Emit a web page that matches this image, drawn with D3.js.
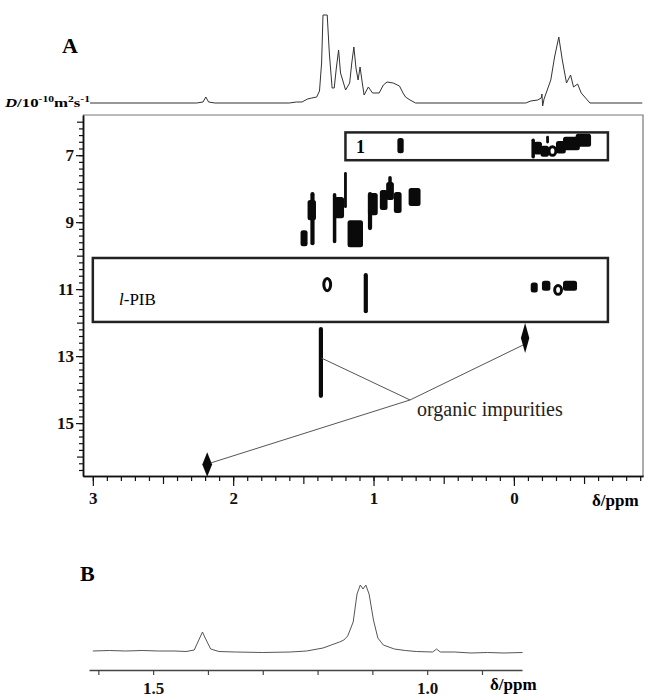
<!DOCTYPE html>
<html>
<head>
<meta charset="utf-8">
<script src="https://cdn.jsdelivr.net/npm/d3@7"></script>
<style>
  body { margin: 0; background: #fff; }
  svg { display: block; }
  text { font-family: "Liberation Serif", "Times New Roman", serif; }
</style>
</head>
<body>
<svg id="chart" width="649" height="700"></svg>
<script>
// 1D projection above panel A: [ppm, intensity]
const topSpectrum = [
  [3.02, 0], [2.26, 0], [2.215, 1], [2.195, 6], [2.175, 1], [2.13, 0],
  [1.60, 0], [1.55, 1], [1.51, 1], [1.47, 4], [1.44, 5], [1.405, 6], [1.385, 12],
  [1.37, 40], [1.36, 88], [1.33, 88], [1.315, 50], [1.295, 15], [1.28, 15],
  [1.265, 35], [1.249, 53], [1.235, 30], [1.22, 23], [1.199, 13], [1.17, 20],
  [1.155, 40], [1.14, 56], [1.125, 35], [1.11, 23], [1.096, 36], [1.08, 20],
  [1.067, 8], [1.037, 16], [1.007, 10], [0.96, 10], [0.93, 18], [0.904, 21],
  [0.86, 20], [0.815, 17], [0.79, 10], [0.772, 6], [0.74, 3], [0.70, 0],
  [-0.085, 0], [-0.12, 2], [-0.17, 3], [-0.195, 5], [-0.2, 9], [-0.205, -3],
  [-0.215, 4], [-0.263, 23], [-0.29, 46], [-0.32, 66], [-0.345, 43], [-0.375, 20],
  [-0.404, 28], [-0.425, 16], [-0.454, 19], [-0.48, 10], [-0.542, 0], [-0.915, 0]
];

// panel B spectrum: [ppm, intensity]
const bSpectrum = [
  [1.61, 1], [1.58, 1.5], [1.55, 1], [1.52, 1.5], [1.49, 1], [1.46, 1], [1.44, 0.5],
  [1.425, 2], [1.415, 14], [1.41, 20], [1.405, 14], [1.395, 3], [1.38, 0.5],
  [1.35, 0], [1.3, -0.5], [1.25, 0], [1.22, 1], [1.19, 4], [1.175, 7], [1.16, 10],
  [1.152, 12], [1.145, 16], [1.135, 30], [1.128, 58], [1.122, 67], [1.117, 63],
  [1.112, 67], [1.106, 58], [1.098, 32], [1.09, 14], [1.08, 7], [1.06, 3],
  [1.04, 1.5], [1.02, 0.5], [0.99, 0], [0.983, 3], [0.976, 0], [0.95, 0],
  [0.92, -1], [0.89, -0.5], [0.86, -1], [0.826, -0.5]
];

const xTicksA = [3, 2, 1, 0];
const yTicksA = [7, 9, 11, 13, 15];
const xTicksB = [1.5, 1.0];

// DOSY contours: [ppm from, ppm to, D from, D to]
const blobs = [
  // compound 1
  [0.83, 0.785, 6.49, 6.94], [-0.125, -0.15, 6.5, 7.1], [-0.14, -0.2, 6.6, 6.98],
  [-0.19, -0.25, 6.72, 7.05], [-0.3, -0.37, 6.58, 6.95], [-0.35, -0.47, 6.45, 6.85],
  [-0.44, -0.55, 6.36, 6.75], [-0.23, -0.25, 6.42, 6.65],
  // intermediate species
  [1.52, 1.47, 9.24, 9.72], [1.45, 1.42, 8.1, 9.69], [1.47, 1.41, 8.34, 8.94],
  [1.29, 1.265, 8.13, 9.63], [1.28, 1.21, 8.25, 8.88], [1.21, 1.19, 7.5, 8.58],
  [1.185, 1.075, 8.94, 9.75], [1.04, 1.01, 8.1, 9.24], [1.04, 0.97, 8.13, 8.79],
  [0.955, 0.9, 8.04, 8.64], [0.91, 0.855, 7.8, 8.34], [0.895, 0.87, 7.62, 7.85],
  [0.855, 0.8, 8.1, 8.73], [0.75, 0.665, 7.98, 8.52],
  // l-PIB
  [1.07, 1.04, 10.52, 11.72], [-0.12, -0.17, 10.8, 11.1], [-0.2, -0.26, 10.75, 11.05],
  [-0.35, -0.45, 10.75, 11.05],
  // impurity
  [1.39, 1.36, 12.13, 14.25]
];
const rings = [
  [-0.24, -0.31, 6.7, 7.05], [1.365, 1.295, 10.64, 11.09], [-0.28, -0.35, 10.85, 11.2]
];
const diamonds = [
  [-0.05, -0.11, 12.01, 12.91], [2.22, 2.15, 15.87, 16.6]
];

const boxNames = ["1", "-PIB"];
const boxPpm = [[1.2, -0.67], [3.0, -0.67]];
const boxD = [[6.32, 7.15], [10.07, 11.98]];

// organic impurities pointer: hub and ends [ppm, D]
const hub = [0.74, 14.31];
const impurityEnds = [[1.37, 13.06], [-0.065, 12.67], [2.16, 16.19]];

const svg = d3.select("#chart");

const x = d3.scaleLinear().domain([3.07, -0.92]).range([83, 643]);
const y = d3.scaleLinear().domain([5.8, 16.58]).range([115, 476]);
const yTop = d3.scaleLinear().domain([0, 88]).range([103, 15]);
const xB = d3.scaleLinear().domain([1.617, 0.827]).range([89, 522]);
const yB = d3.scaleLinear().domain([0, 67]).range([652, 585]);

///////////////////////////// panel A

svg.append("text").attr("x", 62).attr("y", 53)
  .attr("font-size", 22).attr("font-weight", "bold").text("A");

var ylab = svg.append("text").attr("x", 5).attr("y", 107)
  .attr("font-size", 13).attr("font-weight", "bold")
  .attr("textLength", 85).attr("lengthAdjust", "spacingAndGlyphs");
ylab.append("tspan").attr("font-style", "italic").text("D");
ylab.append("tspan").text("/10");
ylab.append("tspan").attr("font-size", 9).attr("dy", -5).text("-10");
ylab.append("tspan").attr("dy", 5).text("m");
ylab.append("tspan").attr("font-size", 9).attr("dy", -5).text("2");
ylab.append("tspan").attr("dy", 5).text("s");
ylab.append("tspan").attr("font-size", 9).attr("dy", -5).text("-1");

svg.append("path")
  .datum(topSpectrum)
  .attr("fill", "none")
  .attr("stroke", "#333")
  .attr("stroke-width", 1)
  .attr("d", d3.line().x(d => x(d[0])).y(d => yTop(d[1])));

// frame
svg.append("path")
  .attr("d", `M${x.range()[0]},${y.range()[0]}H${x.range()[1]}V${y.range()[1]}`)
  .attr("fill", "none").attr("stroke", "#777").attr("stroke-width", 1.2);

// axes
var minorX = svg.append("g").attr("transform", "translate(0,476)")
  .call(d3.axisBottom(x).tickValues(d3.range(-9, 31).map(d => d / 10))
    .tickSize(5).tickSizeOuter(0).tickFormat(""));
minorX.selectAll(".tick line").attr("y2", d => Math.abs(d * 10) % 10 === 5 ? 8 : 5);

var xAxis = svg.append("g").attr("transform", "translate(0,476)")
  .call(d3.axisBottom(x).tickValues(xTicksA).tickSize(10).tickSizeOuter(0)
    .tickPadding(6).tickFormat(d3.format("d")));

var minorY = svg.append("g").attr("transform", "translate(83,0)")
  .call(d3.axisLeft(y).tickValues(d3.range(30, 83).map(d => d / 5))
    .tickSize(4).tickSizeOuter(0).tickFormat(""));
minorY.selectAll(".tick line").attr("x2", d => Math.abs(d * 5) % 10 === 0 ? -6 : -4);

var yAxis = svg.append("g").attr("transform", "translate(83,0)")
  .call(d3.axisLeft(y).tickValues(yTicksA).tickSize(7).tickSizeOuter(0)
    .tickPadding(2).tickFormat(d3.format("d")));

[minorX, xAxis, minorY, yAxis].forEach(g => {
  g.selectAll("path").attr("stroke", "#111").attr("stroke-width", 1.5);
  g.selectAll("line").attr("stroke", "#111").attr("stroke-width", 1.2);
  g.selectAll("text").attr("font-family", "Liberation Serif, serif")
    .attr("font-size", 17).attr("font-weight", "bold").attr("fill", "#111");
});

svg.append("text").attr("x", 592).attr("y", 506)
  .attr("font-size", 17).attr("font-weight", "bold").text("δ/ppm");

// species boxes
boxNames.forEach((name, i) => {
  svg.append("rect")
    .attr("x", x(boxPpm[i][0])).attr("y", y(boxD[i][0]))
    .attr("width", x(boxPpm[i][1]) - x(boxPpm[i][0]))
    .attr("height", y(boxD[i][1]) - y(boxD[i][0]))
    .attr("fill", "none").attr("stroke", "#222").attr("stroke-width", 2.5);
});
svg.append("text").attr("x", 356).attr("y", 153)
  .attr("font-size", 18).attr("font-weight", "bold").text(boxNames[0]);
var pib = svg.append("text").attr("x", 119).attr("y", 305)
  .attr("font-family", "Liberation Sans, Arial, sans-serif").attr("font-size", 17);
pib.append("tspan").attr("font-style", "italic").text("l");
pib.append("tspan").text(boxNames[1]);

// contours
svg.append("g").selectAll("rect")
  .data(blobs)
  .join("rect")
  .attr("x", d => x(d[0])).attr("y", d => y(d[2]))
  .attr("width", d => x(d[1]) - x(d[0]))
  .attr("height", d => y(d[3]) - y(d[2]))
  .attr("rx", d => Math.min((x(d[1]) - x(d[0])) / 2, 2.5))
  .attr("fill", "#0a0a0a");

svg.append("g").selectAll("ellipse")
  .data(rings)
  .join("ellipse")
  .attr("cx", d => (x(d[0]) + x(d[1])) / 2).attr("cy", d => (y(d[2]) + y(d[3])) / 2)
  .attr("rx", d => (x(d[1]) - x(d[0])) / 2 - 1.5)
  .attr("ry", d => (y(d[3]) - y(d[2])) / 2 - 1.5)
  .attr("fill", "#fff").attr("stroke", "#0a0a0a").attr("stroke-width", 3);

svg.append("g").selectAll("path")
  .data(diamonds)
  .join("path")
  .attr("d", d => {
    const cx = (x(d[0]) + x(d[1])) / 2, cy = (y(d[2]) + y(d[3])) / 2;
    return `M${cx},${y(d[2])}L${x(d[1])},${cy}L${cx},${y(d[3])}L${x(d[0])},${cy}Z`;
  })
  .attr("fill", "#0a0a0a");

// pointer lines
svg.append("g").selectAll("line")
  .data(impurityEnds)
  .join("line")
  .attr("x1", x(hub[0])).attr("y1", y(hub[1]))
  .attr("x2", d => x(d[0])).attr("y2", d => y(d[1]))
  .attr("stroke", "#555").attr("stroke-width", 1);

svg.append("text").attr("x", x(0.69)).attr("y", y(14.8))
  .attr("font-size", 20).attr("fill", "#222").text("organic impurities");

///////////////////////////// panel B

svg.append("text").attr("x", 80).attr("y", 581)
  .attr("font-size", 22).attr("font-weight", "bold").text("B");

svg.append("path")
  .datum(bSpectrum)
  .attr("fill", "none")
  .attr("stroke", "#555")
  .attr("stroke-width", 1)
  .attr("d", d3.line().x(d => xB(d[0])).y(d => yB(d[1])));

var xAxisB = svg.append("g").attr("transform", "translate(0,670)")
  .call(d3.axisBottom(xB).tickValues(d3.range(9, 17).map(d => d / 10))
    .tickSize(5).tickSizeOuter(0).tickPadding(7)
    .tickFormat(d => xTicksB.includes(d) ? d3.format(".1f")(d) : ""));
xAxisB.selectAll("path").attr("stroke", "#444").attr("stroke-width", 1.5);
xAxisB.selectAll("line").attr("stroke", "#444").attr("stroke-width", 1.2);
xAxisB.selectAll("text").attr("font-family", "Liberation Serif, serif")
  .attr("font-size", 17).attr("font-weight", "bold").attr("fill", "#111");

svg.append("text").attr("x", 490).attr("y", 690)
  .attr("font-size", 17).attr("font-weight", "bold").text("δ/ppm");
</script>
</body>
</html>
